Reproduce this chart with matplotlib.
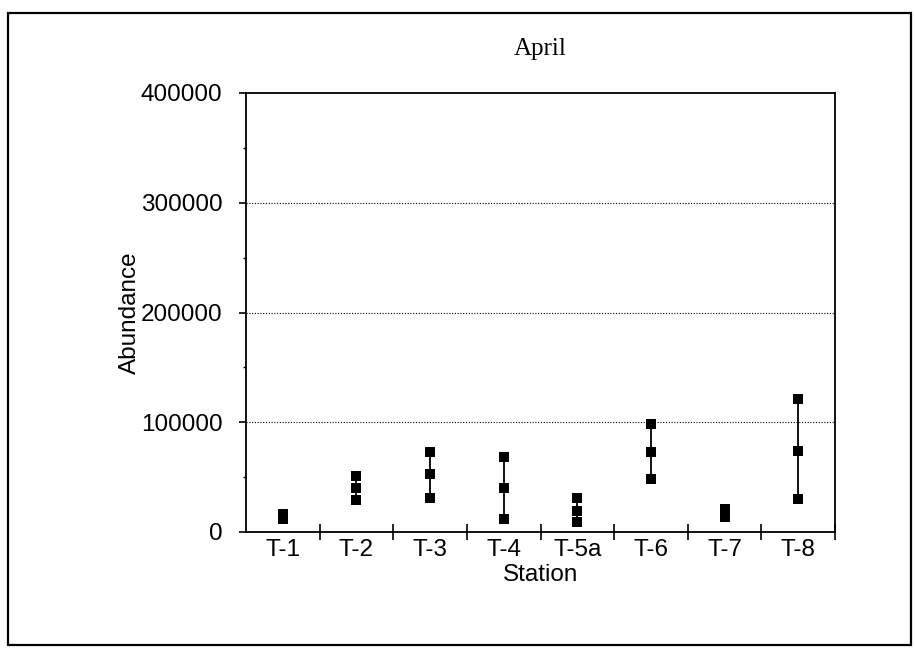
import matplotlib
matplotlib.use("Agg")
import matplotlib.pyplot as plt
from matplotlib.patches import Rectangle
from matplotlib.ticker import MultipleLocator

stations = ["T-1", "T-2", "T-3", "T-4", "T-5a", "T-6", "T-7", "T-8"]
ab_max = [16000, 51000, 73000, 68000, 31000, 98000, 21000, 121000]
ab_mean = [14000, 40000, 53000, 40000, 19000, 73000, 17000, 74000]
ab_min = [12000, 29000, 31000, 12000, 9000, 48000, 14000, 30000]
yticks = [0, 100000, 200000, 300000, 400000]

W, H = 915, 648
fig = plt.figure(figsize=(W / 100, H / 100), dpi=100)
fig.patch.set_facecolor("white")

# outer chart frame
fig.add_artist(Rectangle((8 / W, 1 - 645 / H), (911 - 8) / W, (645 - 13) / H,
                         transform=fig.transFigure, fill=False,
                         edgecolor="black", linewidth=1.6))

ax = fig.add_axes([246 / W, 1 - 532 / H, (835 - 246) / W, (532 - 93) / H])
sans = "Liberation Sans"
fs = 17.5

# slightly flattened square marker
box = [(-1, -0.88), (1, -0.88), (1, 0.88), (-1, 0.88), (-1, -0.88)]

x = list(range(len(stations)))
for xi, lo, hi in zip(x, ab_min, ab_max):
    ax.plot([xi, xi], [lo, hi], color="black", linewidth=1.3, zorder=3)
for series in (ab_max, ab_mean, ab_min):
    ax.plot(x, series, linestyle="none", marker=box, markersize=7.5,
            color="black", markeredgewidth=0, zorder=4)

ax.set_xlim(-0.5, len(stations) - 0.5)
ax.set_ylim(0, 400000)

ax.set_yticks(yticks)
ax.set_yticklabels([str(v) for v in yticks], fontfamily=sans, fontsize=fs)
ax.yaxis.set_minor_locator(MultipleLocator(50000))
ax.tick_params(axis="y", which="major", direction="out", length=5, width=1.2, pad=12)
ax.tick_params(axis="y", which="minor", direction="out", length=2.5, width=1.0)

# category labels centred, boundary ticks between categories
ax.set_xticks(x)
ax.set_xticklabels(stations, fontfamily=sans, fontsize=fs)
ax.tick_params(axis="x", which="major", length=0, pad=5)
ax.set_xticks([i + 0.5 for i in x], minor=True)
ax.tick_params(axis="x", which="minor", direction="inout", length=12, width=1.2)

for v in yticks[1:-1]:
    ax.axhline(v, color="black", linestyle=(0, (1, 1.5)), linewidth=0.8, zorder=1)

for s in ax.spines.values():
    s.set_linewidth(1.3)

ax.set_xlabel("Station", fontfamily=sans, fontsize=fs, labelpad=2)
ax.set_ylabel("Abundance", fontfamily=sans, fontsize=fs, labelpad=0)
ax.set_title("April", fontfamily="Liberation Serif", fontsize=18, pad=27)

fig.savefig("out.png", dpi=100, facecolor="white")
